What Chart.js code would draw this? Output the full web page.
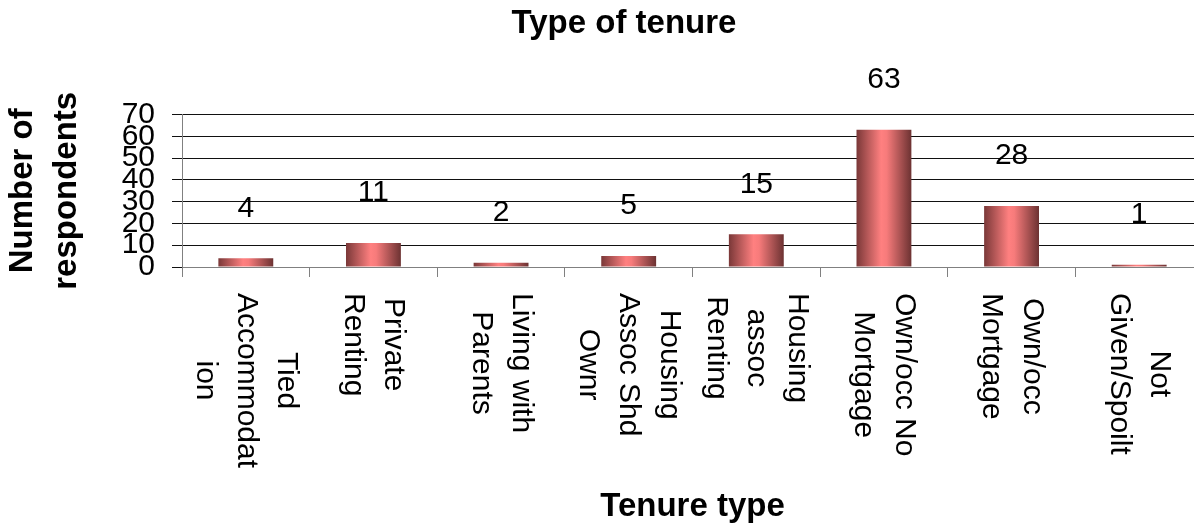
<!DOCTYPE html>
<html>
<head>
<meta charset="utf-8">
<script src="https://cdn.jsdelivr.net/npm/chart.js@4/dist/chart.umd.min.js"></script>
<style>
  body { margin: 0; overflow: hidden; background: #fff; }
  #wrap { width: 1248px; height: 527px; }
</style>
</head>
<body>
<div id="wrap"><canvas id="myChart" width="1248" height="527"></canvas></div>
<script>
// categories, split into the lines shown under each bar
var categories = [
    ["Tied", "Accommodat", "ion"],
    ["Private", "Renting"],
    ["Living with", "Parents"],
    ["Housing", "Assoc Shd", "Ownr"],
    ["Housing", "assoc", "Renting"],
    ["Own/occ No", "Mortgage"],
    ["Own/occ", "Mortgage"],
    ["Not", "Given/Spoilt"]
];
var respondents = [4, 11, 2, 5, 15, 63, 28, 1];
var yTicks = [0, 10, 20, 30, 40, 50, 60, 70];

var fontFamily = "'Liberation Sans', Arial, sans-serif";
Chart.defaults.font.family = fontFamily;
Chart.defaults.color = '#000';

// shaded bar like the old excel cylinder look
function barFill(context) {
    var chart = context.chart;
    var xs = chart.scales.x;
    if (context.type !== 'data' || !xs || !chart.chartArea) return '#ff8080';
    var cx = xs.getPixelForValue(context.dataIndex);
    var half = xs.width / categories.length * 0.43 / 2;
    var g = chart.ctx.createLinearGradient(cx - half, 0, cx + half, 0);
    g.addColorStop(0, '#7a3838');
    g.addColorStop(0.45, '#ff8080');
    g.addColorStop(0.55, '#f77b7b');
    g.addColorStop(1, '#6c3232');
    return g;
}

// numbers above the bars
var valueLabels = {
    id: 'valueLabels',
    afterDatasetsDraw: function(chart) {
        var ctx = chart.ctx;
        var meta = chart.getDatasetMeta(0);
        ctx.save();
        ctx.font = '30px ' + fontFamily;
        ctx.fillStyle = '#000';
        ctx.textAlign = 'center';
        ctx.textBaseline = 'middle';
        meta.data.forEach(function(bar, i) {
            ctx.fillText(String(respondents[i]), bar.x, bar.y - 50);
        });
        ctx.restore();
    }
};

// category names turned a quarter clockwise, reading downwards
var sideLabels = {
    id: 'sideLabels',
    afterDraw: function(chart) {
        var ctx = chart.ctx;
        var xs = chart.scales.x;
        var lh = 40.5;
        ctx.save();
        ctx.font = '30px ' + fontFamily;
        ctx.fillStyle = '#000';
        ctx.textAlign = 'center';
        ctx.textBaseline = 'middle';
        categories.forEach(function(lines, i) {
            var cx = xs.getPixelForValue(i);
            var maxW = 0;
            lines.forEach(function(l) { maxW = Math.max(maxW, ctx.measureText(l).width); });
            ctx.save();
            ctx.translate(cx, xs.top + 26);
            ctx.rotate(Math.PI / 2);
            lines.forEach(function(l, k) {
                ctx.fillText(l, maxW / 2, (k - (lines.length - 1) / 2) * lh);
            });
            ctx.restore();
        });
        ctx.restore();
    }
};

var ctx = document.getElementById('myChart').getContext('2d');
var chart = new Chart(ctx, {
    type: 'bar',
    data: {
        labels: categories,
        datasets: [{
            label: 'Number of respondents',
            data: respondents,
            backgroundColor: barFill,
            borderWidth: 0,
            barPercentage: 0.43,
            categoryPercentage: 1
        }]
    },
    options: {
        responsive: false,
        animation: false,
        layout: { padding: 0 },
        plugins: {
            legend: { display: false },
            tooltip: { enabled: false },
            title: {
                display: true,
                text: 'Type of tenure',
                font: { size: 33, weight: 'bold' },
                padding: { top: 4, bottom: 71 }
            }
        },
        scales: {
            x: {
                grid: { drawOnChartArea: false, color: '#808080', tickLength: 10 },
                border: { color: '#808080' },
                ticks: { display: false },
                title: {
                    display: true,
                    text: 'Tenure type',
                    font: { size: 33, weight: 'bold' },
                    padding: { top: 0, bottom: 0 }
                },
                afterFit: function(s) { s.height = 260; }
            },
            y: {
                min: 0,
                max: 70,
                afterBuildTicks: function(s) {
                    s.ticks = yTicks.map(function(v) { return { value: v }; });
                },
                grid: { color: '#111', tickLength: 10 },
                border: { color: '#808080' },
                ticks: { autoSkip: false, font: { size: 30 }, padding: 17 },
                title: {
                    display: true,
                    text: ['Number of', 'respondents'],
                    font: { size: 33, weight: 'bold', lineHeight: 1.36 },
                    padding: { top: 0, bottom: 0 }
                },
                afterFit: function(s) { s.width = 182; }
            },
            yR: {
                position: 'right',
                display: true,
                grid: { display: false },
                border: { display: false },
                ticks: { display: false },
                afterFit: function(s) { s.width = 45; }
            }
        }
    },
    plugins: [valueLabels, sideLabels]
});
</script>
</body>
</html>
